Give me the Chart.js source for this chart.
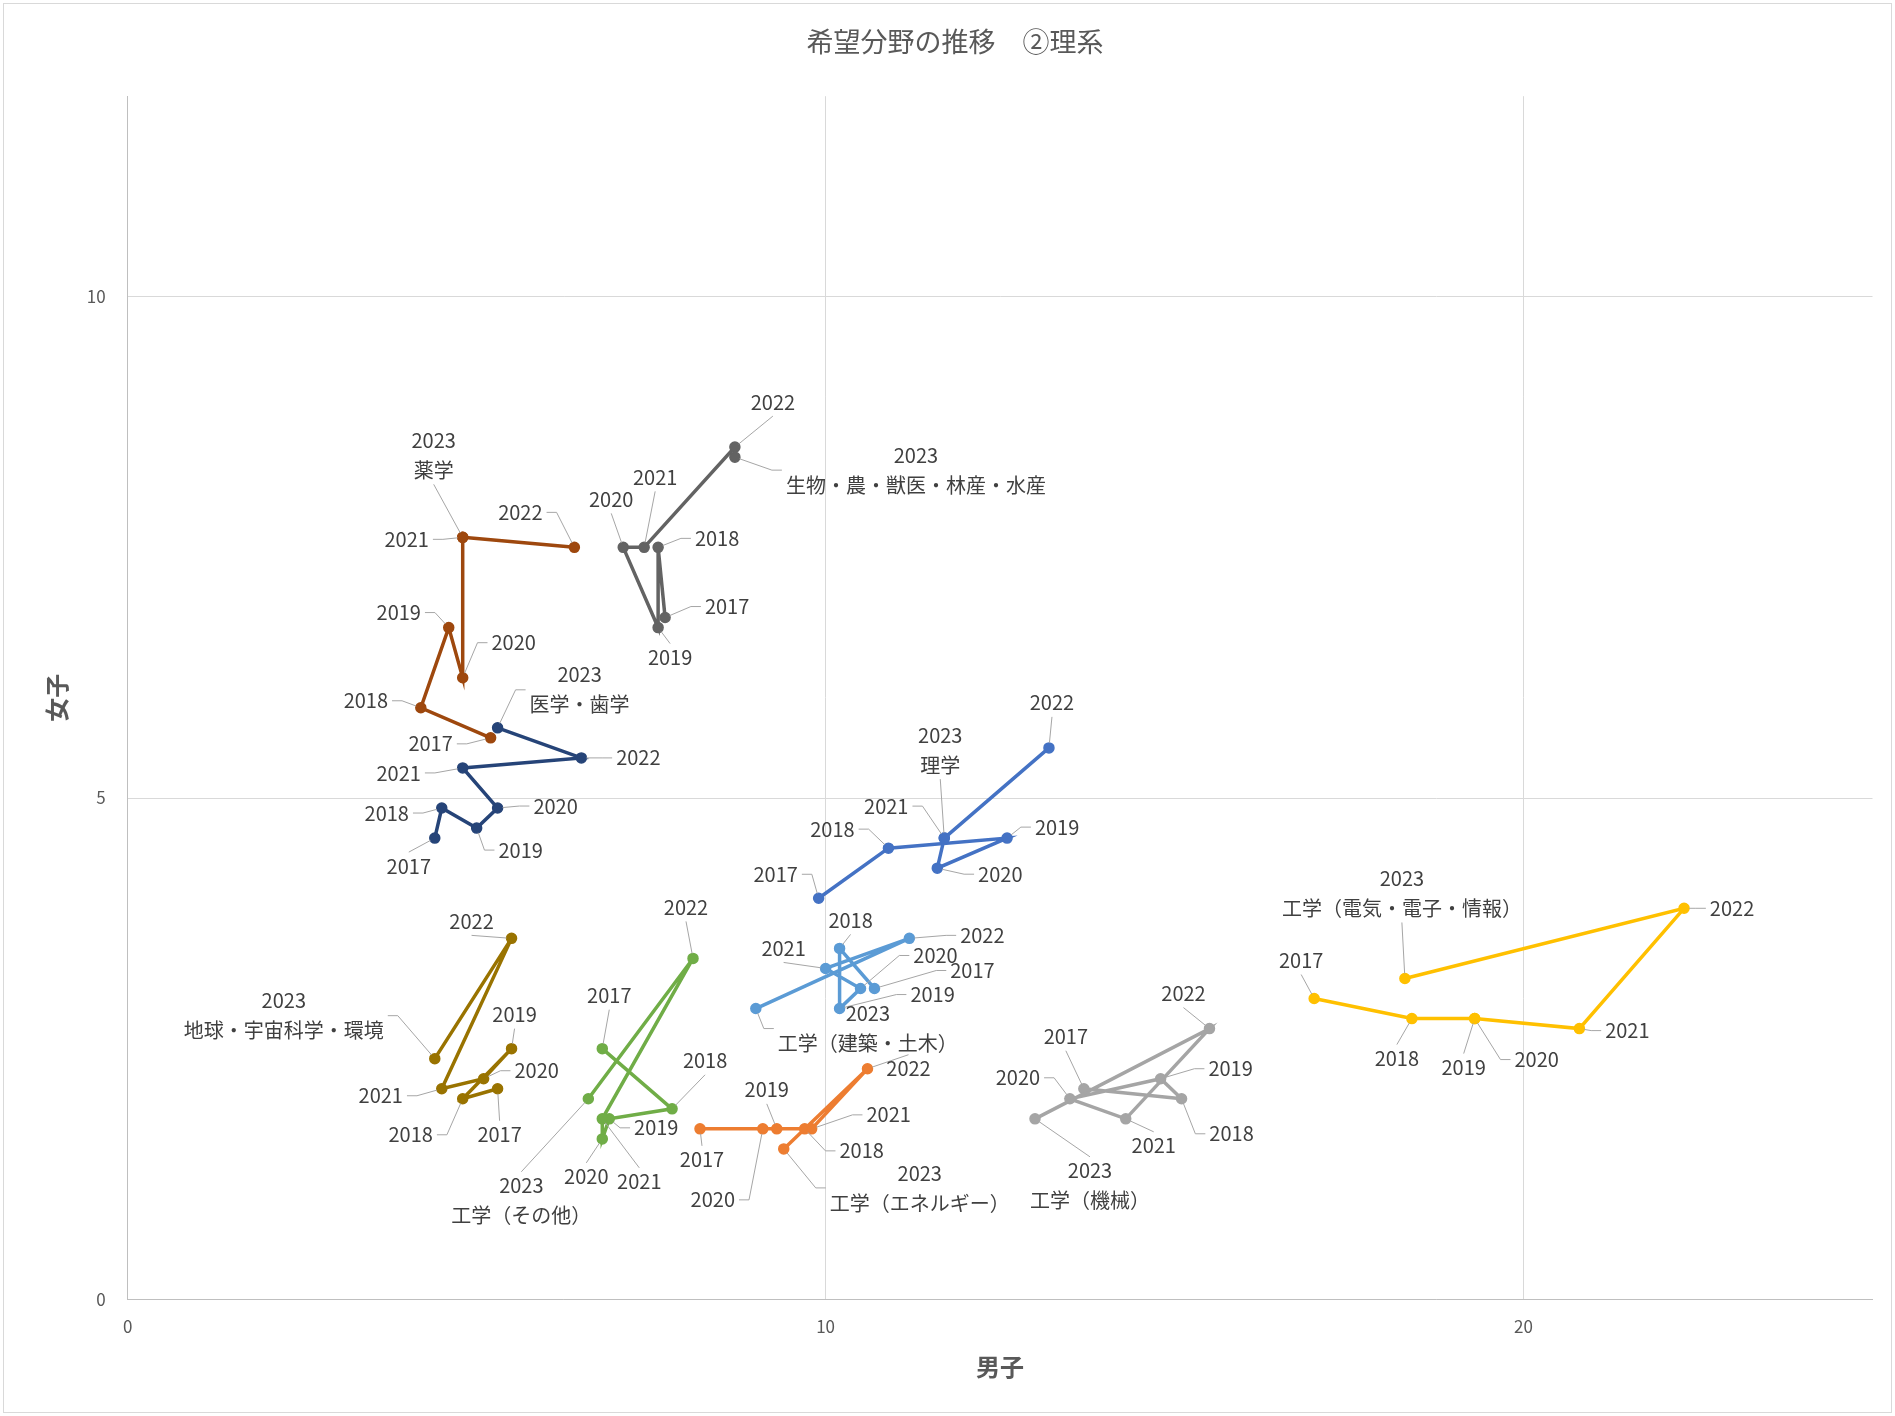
<!DOCTYPE html>
<html lang="ja">
<head>
<meta charset="utf-8">
<title>希望分野の推移 ②理系</title>
<script src="https://cdn.jsdelivr.net/npm/chart.js@4.4.1/dist/chart.umd.min.js"></script>
<style>
  html, body { margin: 0; padding: 0; background: #fff; }
  #wrap { position: relative; width: 1895px; height: 1416px; }
</style>
</head>
<body>
<div id="wrap"><canvas id="chart"></canvas></div>
<script>
const years = ['2017', '2018', '2019', '2020', '2021', '2022', '2023'];
const fields = ['理学', '工学（エネルギー）', '工学（機械）', '工学（電気・電子・情報）', '工学（建築・土木）',
    '工学（その他）', '医学・歯学', '薬学', '生物・農・獣医・林産・水産', '地球・宇宙科学・環境'];

// 男子 (x) and 女子 (y), one pair per field, 2017 -> 2023
const rigakuM = [9.9, 10.9, 12.6, 11.6, 11.7, 13.2, 11.7];
const rigakuF = [4.0, 4.5, 4.6, 4.3, 4.6, 5.5, 4.6];
const energyM = [8.2, 9.7, 9.3, 9.1, 9.8, 10.6, 9.4];
const energyF = [1.7, 1.7, 1.7, 1.7, 1.7, 2.3, 1.5];
const kikaiM = [13.7, 15.1, 14.8, 13.5, 14.3, 15.5, 13.0];
const kikaiF = [2.1, 2.0, 2.2, 2.0, 1.8, 2.7, 1.8];
const denkiM = [17.0, 18.4, 19.3, 19.3, 20.8, 22.3, 18.3];
const denkiF = [3.0, 2.8, 2.8, 2.8, 2.7, 3.9, 3.2];
const kenchikuM = [10.7, 10.2, 10.2, 10.5, 10.0, 11.2, 9.0];
const kenchikuF = [3.1, 3.5, 2.9, 3.1, 3.3, 3.6, 2.9];
const sonotaM = [6.8, 7.8, 6.9, 6.8, 6.8, 8.1, 6.6];
const sonotaF = [2.5, 1.9, 1.8, 1.6, 1.8, 3.4, 2.0];
const igakuM = [4.4, 4.5, 5.0, 5.3, 4.8, 6.5, 5.3];
const igakuF = [4.6, 4.9, 4.7, 4.9, 5.3, 5.4, 5.7];
const yakugakuM = [5.2, 4.2, 4.6, 4.8, 4.8, 6.4, 4.8];
const yakugakuF = [5.6, 5.9, 6.7, 6.2, 7.6, 7.5, 7.6];
const seibutsuM = [7.7, 7.6, 7.6, 7.1, 7.4, 8.7, 8.7];
const seibutsuF = [6.8, 7.5, 6.7, 7.5, 7.5, 8.5, 8.4];
const chikyuM = [5.3, 4.8, 5.5, 5.1, 4.5, 5.5, 4.4];
const chikyuF = [2.1, 2.0, 2.5, 2.2, 2.1, 3.6, 2.4];

const maleVals = [rigakuM, energyM, kikaiM, denkiM, kenchikuM, sonotaM, igakuM, yakugakuM, seibutsuM, chikyuM];
const femaleVals = [rigakuF, energyF, kikaiF, denkiF, kenchikuF, sonotaF, igakuF, yakugakuF, seibutsuF, chikyuF];
const colors = ['#4472C4', '#ED7D31', '#A5A5A5', '#FFC000', '#5B9BD5', '#70AD47', '#264478', '#9E480E', '#636363', '#997300'];

// where each year label sits relative to its point (px), like the hand-moved labels in the sheet
const labelOffsets = [
    [[-43, -24], [-56, -19], [50, -11], [63, 6], [-58, -32], [3, -45], [-4, -88]],
    [[2, 31], [57, 22], [-10, -39], [-50, 71], [77, -14], [41, 0], [136, 39]],
    [[-18, -52], [50, 35], [70, -10], [-52, -21], [28, 27], [-26, -35], [55, 67]],
    [[-13, -38], [-15, 40], [-11, 49], [62, 41], [48, 2], [48, 0], [-3, -85]],
    [[98, -18], [11, -28], [93, -14], [75, -33], [-42, -20], [73, -3], [112, 20]],
    [[7, -53], [33, -48], [47, 9], [-16, 38], [37, 63], [-7, -51], [-67, 102]],
    [[-26, 28], [-55, 5], [44, 22], [58, -2], [-64, 5], [57, 0], [82, -38]],
    [[-60, 6], [-55, -7], [-50, -15], [51, -35], [-56, 2], [-54, -35], [-29, -82]],
    [[62, -11], [59, -9], [12, 30], [-12, -48], [11, -70], [38, -45], [181, 13]],
    [[2, 46], [-52, 36], [3, -34], [53, -8], [-61, 7], [-40, -17], [-151, -43]]
];

const FONT = '"Noto Sans CJK JP", "Noto Sans", sans-serif';
Chart.defaults.font.family = FONT;

const datasets = fields.map((name, k) => ({
    label: name,
    data: maleVals[k].map((x, i) => ({ x: x, y: femaleVals[k][i] })),
    showLine: true,
    borderColor: colors[k],
    backgroundColor: colors[k],
    borderWidth: 3.5,
    pointRadius: 5,
    pointBorderWidth: 1.5,
    pointHoverRadius: 5
}));

// outer frame of the chart; title centred on the whole frame like the sheet does
const frame = {
    id: 'frame',
    afterLayout(chart) {
        if (chart.titleBlock) {
            chart.titleBlock.left = 0;
            chart.titleBlock.right = 1910;
        }
    },
    beforeDraw(chart) {
        const ctx = chart.ctx;
        ctx.save();
        ctx.fillStyle = '#fff';
        ctx.fillRect(0, 0, chart.width, chart.height);
        ctx.strokeStyle = '#d9d9d9';
        ctx.lineWidth = 1;
        ctx.strokeRect(3.5, 3.5, chart.width - 7, chart.height - 7);
        ctx.restore();
    }
};

// year labels with leader lines; last point also carries the field name
const yearLabels = {
    id: 'yearLabels',
    afterDatasetsDraw(chart) {
        const ctx = chart.ctx;
        ctx.save();
        ctx.font = '20px ' + FONT;
        ctx.textAlign = 'center';
        ctx.textBaseline = 'middle';
        chart.data.datasets.forEach((ds, di) => {
            const meta = chart.getDatasetMeta(di);
            meta.data.forEach((pt, i) => {
                const off = labelOffsets[di][i];
                const lines = i === years.length - 1 ? [years[i], ds.label] : [years[i]];
                const cx = pt.x + off[0];
                const cy = pt.y + off[1];
                const hw = Math.max(...lines.map(t => ctx.measureText(t).width)) / 2;
                const hh = lines.length === 1 ? 12 : 27;

                let path;
                if (Math.abs(pt.x - cx) - hw > 20) {
                    const side = pt.x > cx ? 1 : -1;
                    const ax = cx + side * (hw + 4);
                    path = [[ax, cy], [ax + side * 10, cy]];
                } else {
                    const sgn = pt.y > cy ? 1 : -1;
                    path = [[cx, cy + sgn * (hh + 2)]];
                }
                const last = path[path.length - 1];
                const vx = pt.x - last[0];
                const vy = pt.y - last[1];
                const d = Math.hypot(vx, vy);
                if (d > 9) {
                    ctx.strokeStyle = '#a6a6a6';
                    ctx.lineWidth = 1;
                    ctx.beginPath();
                    ctx.moveTo(path[0][0], path[0][1]);
                    for (let k = 1; k < path.length; k++) ctx.lineTo(path[k][0], path[k][1]);
                    ctx.lineTo(pt.x - vx / d * 5, pt.y - vy / d * 5);
                    ctx.stroke();
                }
                ctx.fillStyle = '#404040';
                lines.forEach((t, k) => {
                    ctx.fillText(t, cx, cy + (k - (lines.length - 1) / 2) * 30);
                });
            });
        });
        ctx.restore();
    }
};

const ctx = document.getElementById('chart').getContext('2d');
const chart = new Chart(ctx, {
    type: 'scatter',
    data: { datasets: datasets },
    plugins: [frame, yearLabels],
    options: {
        responsive: true,
        maintainAspectRatio: false,
        animation: false,
        events: [],
        layout: { padding: { top: 0, left: 0, right: 22.5, bottom: 0 } },
        plugins: {
            legend: { display: false },
            tooltip: { enabled: false },
            title: {
                display: true,
                text: '希望分野の推移　②理系',
                color: '#595959',
                font: { size: 27, weight: 'normal' },
                padding: { top: 25.8, bottom: 38 }
            }
        },
        scales: {
            x: {
                type: 'linear',
                min: 0,
                max: 25,
                ticks: { stepSize: 10, color: '#595959', font: { size: 17 }, padding: 17 },
                grid: { color: '#d9d9d9', drawTicks: false },
                border: { color: '#bfbfbf' },
                title: {
                    display: true,
                    text: '男子',
                    color: '#595959',
                    font: { size: 24, weight: 'bold' },
                    padding: { top: 0, bottom: 34.6 }
                },
                afterBuildTicks: (s) => { s.ticks = s.ticks.filter(t => t.value % 10 === 0); },
                afterFit: (s) => { s.height = 116.7; s.paddingLeft = 0; s.paddingRight = 0; }
            },
            y: {
                type: 'linear',
                min: 0,
                max: 12,
                ticks: { stepSize: 5, color: '#595959', font: { size: 17 }, padding: 22 },
                grid: { color: '#d9d9d9', drawTicks: false },
                border: { color: '#bfbfbf' },
                title: {
                    display: true,
                    text: '女子',
                    color: '#595959',
                    font: { size: 24, weight: 'bold' },
                    padding: { top: 42.6, bottom: 0 }
                },
                afterBuildTicks: (s) => { s.ticks = s.ticks.filter(t => t.value % 5 === 0); },
                afterFit: (s) => { s.width = 127.7; s.paddingTop = 0; s.paddingBottom = 0; }
            }
        }
    }
});
</script>
</body>
</html>
